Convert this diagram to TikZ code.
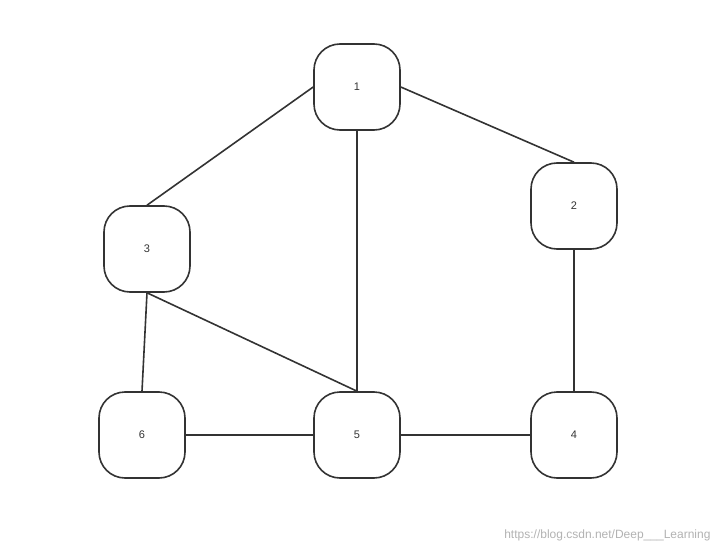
\documentclass[tikz,border=0pt]{standalone}
\usepackage{fontspec}
\setmainfont{Liberation Sans}
\begin{document}
\begin{tikzpicture}[x=1pt,y=-1pt,
  vtx/.style={draw=black!80,line width=1.6pt,rounded corners=26pt,minimum width=86pt,minimum height=86pt,inner sep=0pt,font=\fontsize{11}{13}\selectfont,text=black!80},
  edge/.style={draw=black!80,line width=1.6pt}]
\useasboundingbox (0,0) rectangle (721,551);
\node[vtx] (n1) at (357,87) {1};
\node[vtx] (n2) at (574,206) {2};
\node[vtx] (n3) at (147,249) {3};
\node[vtx] (n4) at (574,435) {4};
\node[vtx] (n5) at (357,435) {5};
\node[vtx] (n6) at (142,435) {6};
\draw[edge] (n1.east) -- (n2.north);
\draw[edge] (n1.west) -- (n3.north);
\draw[edge] (n1.south) -- (n5.north);
\draw[edge] (n3.south) -- (n5.north);
\draw[edge] (n3.south) -- (n6.north);
\draw[edge] (n2.south) -- (n4.north);
\draw[edge] (n6.east) -- (n5.west);
\draw[edge] (n5.east) -- (n4.west);
\node[text=black!30,font=\fontsize{12}{14}\selectfont,anchor=east] (wm) at (714,535) {https://blog.csdn.net/Deep\_\_\_Learning};
\end{tikzpicture}
\end{document}
